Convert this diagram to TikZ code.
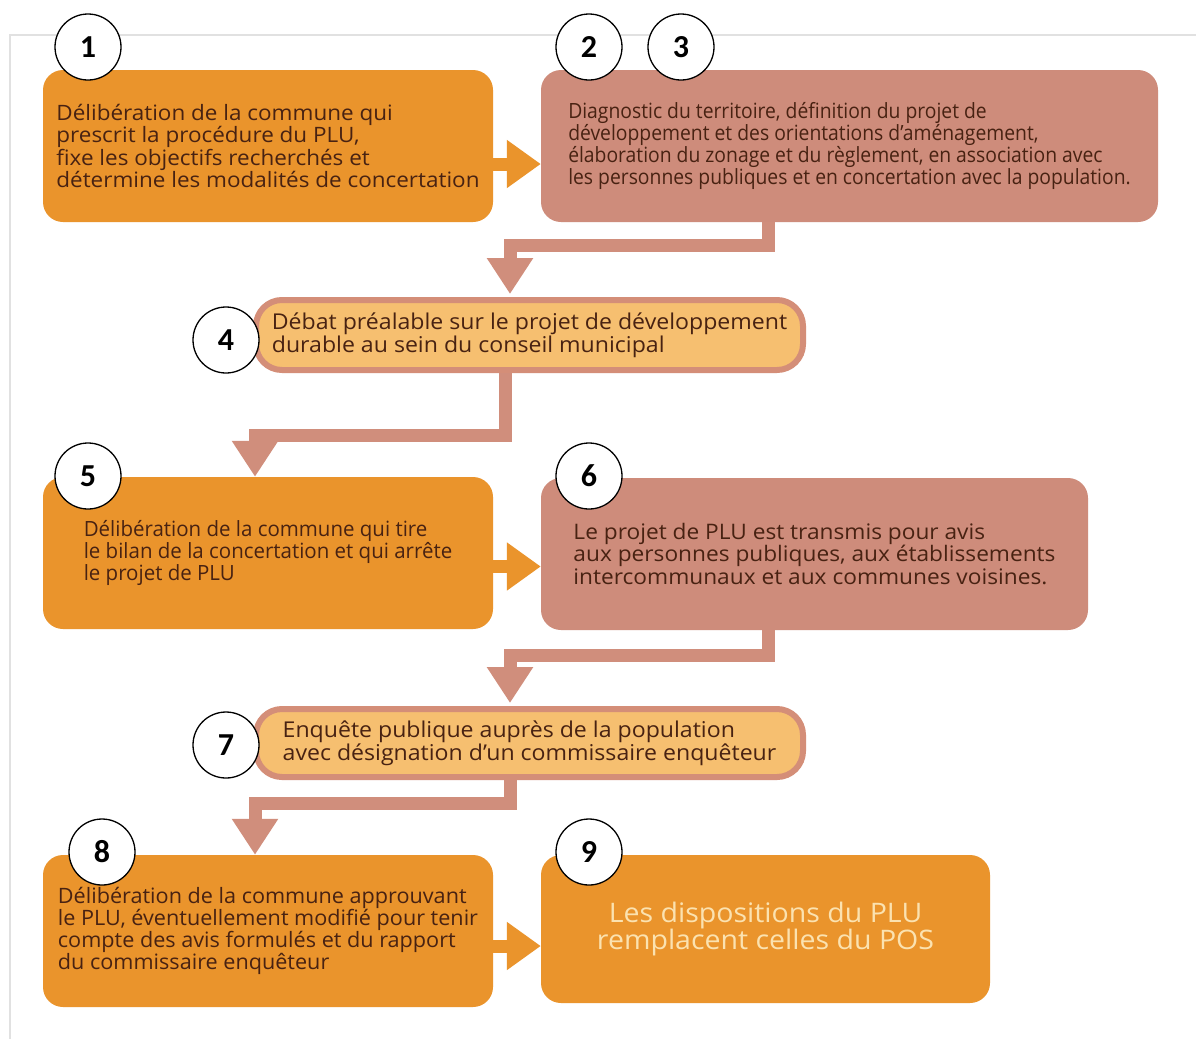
\documentclass[tikz,border=0pt]{standalone}
\usepackage{fontspec}
\usetikzlibrary{arrows.meta}
\setmainfont{Open Sans}
\newfontfamily\numfont{Carlito}
\newfontfamily\fontA{Open Sans}[FakeStretch=1.06]
\newfontfamily\fontB{Open Sans}[FakeStretch=0.92]
\newfontfamily\fontC{Open Sans}[FakeStretch=0.975]
\newfontfamily\fontD{Open Sans}[FakeStretch=1.02]
\definecolor{orng}{RGB}{234,148,44}
\definecolor{slmn}{RGB}{206,140,123}
\definecolor{lite}{RGB}{246,191,112}
\definecolor{brdr}{RGB}{212,142,120}
\definecolor{conn}{RGB}{208,142,124}
\definecolor{txt}{RGB}{72,34,18}
\definecolor{cream}{RGB}{251,226,176}
\definecolor{frm}{RGB}{225,225,225}
\begin{document}
\begin{tikzpicture}[x=1pt,y=-1pt,
  boxbase/.style={rectangle, rounded corners=20pt, align=left, text=txt, inner sep=0pt},
  obox/.style={boxbase, fill=orng},
  sbox/.style={boxbase, fill=slmn},
  lbox/.style={boxbase, fill=lite, draw=brdr, line width=6pt, rounded corners=26pt},
  numc/.style={circle, draw=black, line width=1.3pt, fill=white, minimum size=66pt, inner sep=0pt, font=\numfont\bfseries\fontsize{32}{32}\selectfont},
  connline/.style={draw=conn, line width=13pt, -{Triangle[width=44pt,length=36pt]}},
  harrow/.style={draw=orng, line width=13pt, -{Triangle[width=46pt,length=34pt]}},
  frameline/.style={draw=frm, line width=2.5pt}
]
\useasboundingbox (0,0) rectangle (1196,1039);
\fill[white] (0,0) rectangle (1196,1039);
\draw[frameline] (10,1039) -- (10,35) -- (1196,35);

\node[obox, minimum width=450pt, minimum height=152pt,
  font=\fontA\fontsize{21.2}{22.4}\selectfont] (b1) at (268,146)
  {Délibération de la commune qui\\prescrit la procédure du PLU,\\fixe les objectifs recherchés et\\détermine les modalités de concertation};
\node[sbox, minimum width=617pt, minimum height=152pt,
  font=\fontB\fontsize{21}{22}\selectfont] (b2) at (849.5,146)
  {Diagnostic du territoire, définition du projet de\\développement et des orientations d’aménagement,\\élaboration du zonage et du règlement, en association avec\\les personnes publiques et en concertation avec la population.};
\node[lbox, minimum width=547pt, minimum height=70pt,
  font=\fontA\fontsize{21.8}{23}\selectfont] (b4) at (529.5,335)
  {Débat préalable sur le projet de développement\\durable au sein du conseil municipal};
\node[obox, minimum width=450pt, minimum height=152pt,
  font=\fontC\fontsize{21}{22}\selectfont] (b5) at (268,553)
  {Délibération de la commune qui tire\\le bilan de la concertation et qui arrête\\le projet de PLU};
\node[sbox, minimum width=547pt, minimum height=152pt,
  font=\fontA\fontsize{21.4}{22.5}\selectfont] (b6) at (814.5,554)
  {Le projet de PLU est transmis pour avis\\aux personnes publiques, aux établissements\\intercommunaux et aux communes voisines.};
\node[lbox, minimum width=547pt, minimum height=68pt,
  font=\fontA\fontsize{21.8}{23}\selectfont] (b7) at (529.5,743)
  {Enquête publique auprès de la population\\avec désignation d’un commissaire enquêteur};
\node[obox, minimum width=450pt, minimum height=152pt,
  font=\fontD\fontsize{21.2}{22}\selectfont] (b8) at (268,931)
  {Délibération de la commune approuvant\\le PLU, éventuellement modifié pour tenir\\compte des avis formulés et du rapport\\du commissaire enquêteur};
\node[obox, minimum width=449pt, minimum height=148pt, align=center, text=cream,
  font=\fontA\fontsize{26.9}{27}\selectfont] (b9) at (765.5,929)
  {Les dispositions du PLU\\remplacent celles du POS};

\draw[harrow] ([yshift=-18pt]b1.east) -- ([yshift=-18pt]b2.west);
\draw[harrow] ([yshift=-13.5pt]b5.east) -- ([yshift=-13.5pt]b5.east -| b6.west);
\draw[harrow] ([yshift=-15pt]b8.east) -- ([yshift=-15pt]b8.east -| b9.west);

\draw[connline] ([xshift=-81.5pt]b2.south) -- ++(0,23) -| ([xshift=-19.5pt,yshift=3pt]b4.north);
\draw[connline] ([xshift=-24.5pt]b4.south) -- ++(0,62) -| ([xshift=-13pt]b5.north);
\draw[connline] ([xshift=-46.5pt]b6.south) -- ++(0,25) -| ([xshift=-19.5pt,yshift=3pt]b7.north);
\draw[connline] ([xshift=-19.5pt]b7.south) -- ++(0,23) -| ([xshift=-13pt]b8.north);

\node[numc] (c1) at (88,47) {1};
\node[numc] (c2) at (589,47) {2};
\node[numc] (c3) at (681,47) {3};
\node[numc] (c4) at (226,340) {4};
\node[numc] (c5) at (88,476) {5};
\node[numc] (c6) at (589,476) {6};
\node[numc] (c7) at (226,745) {7};
\node[numc] (c8) at (102,852) {8};
\node[numc] (c9) at (589,852) {9};
\end{tikzpicture}
\end{document}
